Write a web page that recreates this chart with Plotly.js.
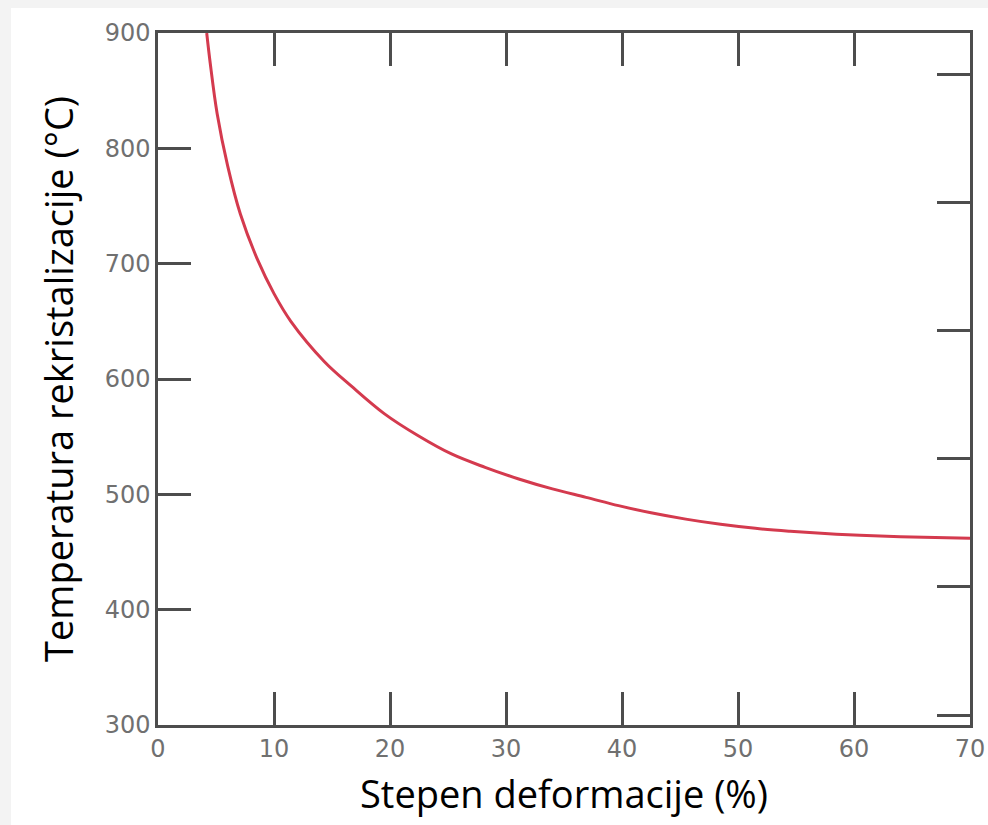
<!DOCTYPE html>
<html>
<head>
<meta charset="utf-8">
<script src="https://cdn.plot.ly/plotly-3.0.1.min.js"></script>
<style>
  html, body { margin: 0; padding: 0; background: #f3f3f3; }
  #chart { position: absolute; left: 11px; top: 8px; width: 977px; height: 817px; }
</style>
</head>
<body>
<div id="chart"></div>
<script>
// Stepen deformacije (%)
const deformation = [4.2, 4.5, 5.1, 6.0, 7.1, 8.6, 10, 11.45, 14.35, 16.65, 19.5, 22.4, 25.3, 28.2, 31.1, 34, 36.9, 39.7, 42.5, 45.5, 48.5, 51.5, 54.5, 57.5, 60.5, 65, 70];
// Temperatura rekristalizacije (°C)
const temperature = [900, 874, 830, 785, 743, 703, 674, 650, 615, 594, 570, 551, 535, 523.4, 513.3, 504.7, 497.4, 490.2, 484, 478.5, 474, 470.5, 468, 466, 464.5, 463, 462];

const xTicks = [0, 10, 20, 30, 40, 50, 60, 70];
const yTicks = [300, 400, 500, 600, 700, 800, 900];

const xTitle = 'Stepen deformacije (%)';
const yTitle = 'Temperatura rekristalizacije (°C)';

const axisColor = '#4d4d4d';
const tickFont = { family: 'DejaVu Sans', size: 24, color: '#707070' };
const titleFont = { family: 'Open Sans', size: 38, color: '#000000' };

const traces = [
  {
    x: deformation,
    y: temperature,
    type: 'scatter',
    mode: 'lines',
    line: { color: '#d43a4e', width: 3, shape: 'spline', smoothing: 1 },
    hoverinfo: 'x+y',
    showlegend: false
  },
  {
    x: [],
    y: [],
    type: 'scatter',
    mode: 'lines',
    yaxis: 'y2',
    showlegend: false,
    hoverinfo: 'skip'
  }
];

const layout = {
  width: 977,
  height: 817,
  margin: { l: 147, r: 18, t: 25, b: 100 },
  paper_bgcolor: '#ffffff',
  plot_bgcolor: '#ffffff',
  showlegend: false,
  xaxis: {
    range: [0, 70],
    tickvals: xTicks,
    ticktext: xTicks.map(String),
    ticks: 'inside',
    ticklen: 33,
    tickwidth: 2.5,
    tickcolor: axisColor,
    showline: true,
    linecolor: axisColor,
    linewidth: 2.5,
    mirror: 'ticks',
    showgrid: false,
    zeroline: false,
    tickfont: tickFont,
    title: { text: xTitle, font: titleFont, standoff: 20 }
  },
  yaxis: {
    range: [300, 900],
    tickvals: yTicks,
    ticktext: yTicks.map(String),
    ticks: 'inside',
    ticklen: 33,
    tickwidth: 2.5,
    tickcolor: axisColor,
    showline: true,
    linecolor: axisColor,
    linewidth: 2.5,
    mirror: false,
    showgrid: false,
    zeroline: false,
    tickfont: tickFont,
    title: { text: yTitle + '\u00A0\u00A0\u00A0\u00A0', font: titleFont, standoff: 20 }
  },
  yaxis2: {
    overlaying: 'y',
    side: 'right',
    range: [584.4, 1664.4],
    tick0: 600,
    dtick: 200,
    tickmode: 'linear',
    ticks: 'inside',
    ticklen: 33,
    tickwidth: 2.5,
    tickcolor: axisColor,
    showline: true,
    linecolor: axisColor,
    linewidth: 2.5,
    showticklabels: false,
    showgrid: false,
    zeroline: false
  }
};

Plotly.newPlot('chart', traces, layout, { displayModeBar: false });
</script>
</body>
</html>
